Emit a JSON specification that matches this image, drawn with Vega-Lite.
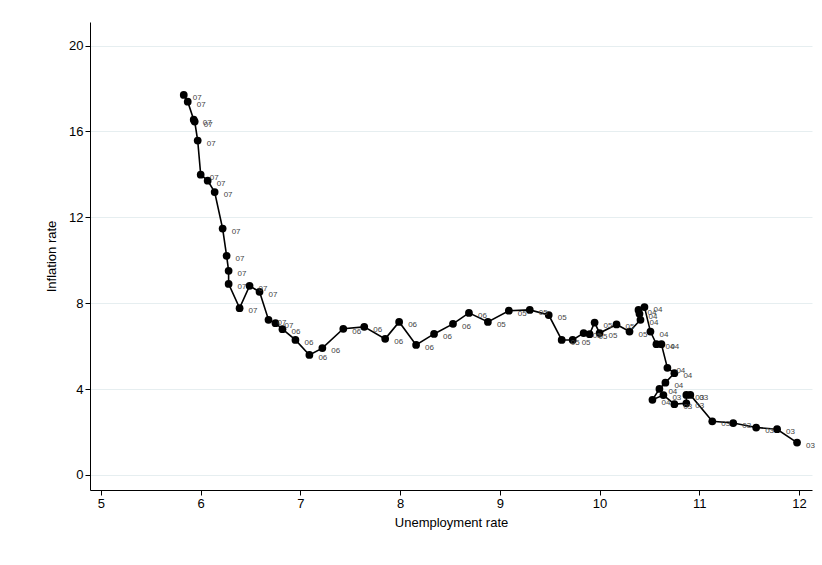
{
  "$schema": "https://vega.github.io/schema/vega-lite/v6.json",
  "width": 722,
  "height": 468,
  "autosize": {"type": "none"},
  "padding": {"left": 90, "top": 22, "right": 10, "bottom": 75},
  "background": "white",
  "config": {
    "font": "Liberation Sans",
    "view": {"stroke": null},
    "axis": {"labelFont": "Liberation Sans", "titleFont": "Liberation Sans", "labelFontSize": 13, "titleFontSize": 13, "titleFontWeight": "normal", "labelColor": "#000", "titleColor": "#000", "domainColor": "#000", "tickColor": "#000", "gridColor": "#e6eef0"}
  },
  "data": {"values": [
    {"t": 1, "u": 5.83, "p": 17.70, "yr": "07"},
    {"t": 2, "u": 5.87, "p": 17.39, "yr": "07"},
    {"t": 3, "u": 5.93, "p": 16.55, "yr": "07"},
    {"t": 4, "u": 5.94, "p": 16.46, "yr": "07"},
    {"t": 5, "u": 5.97, "p": 15.58, "yr": "07"},
    {"t": 6, "u": 6.00, "p": 13.99, "yr": "07"},
    {"t": 7, "u": 6.07, "p": 13.71, "yr": "07"},
    {"t": 8, "u": 6.14, "p": 13.18, "yr": "07"},
    {"t": 9, "u": 6.22, "p": 11.48, "yr": "07"},
    {"t": 10, "u": 6.26, "p": 10.21, "yr": "07"},
    {"t": 11, "u": 6.28, "p": 9.51, "yr": "07"},
    {"t": 12, "u": 6.28, "p": 8.90, "yr": "07"},
    {"t": 13, "u": 6.39, "p": 7.77, "yr": "07"},
    {"t": 14, "u": 6.49, "p": 8.81, "yr": "07"},
    {"t": 15, "u": 6.59, "p": 8.53, "yr": "07"},
    {"t": 16, "u": 6.68, "p": 7.23, "yr": "07"},
    {"t": 17, "u": 6.75, "p": 7.07, "yr": "07"},
    {"t": 18, "u": 6.82, "p": 6.79, "yr": "06"},
    {"t": 19, "u": 6.95, "p": 6.29, "yr": "06"},
    {"t": 20, "u": 7.09, "p": 5.59, "yr": "06"},
    {"t": 21, "u": 7.22, "p": 5.91, "yr": "06"},
    {"t": 22, "u": 7.43, "p": 6.81, "yr": "06"},
    {"t": 23, "u": 7.64, "p": 6.90, "yr": "06"},
    {"t": 24, "u": 7.85, "p": 6.34, "yr": "06"},
    {"t": 25, "u": 7.99, "p": 7.13, "yr": "06"},
    {"t": 26, "u": 8.16, "p": 6.06, "yr": "06"},
    {"t": 27, "u": 8.34, "p": 6.57, "yr": "06"},
    {"t": 28, "u": 8.53, "p": 7.04, "yr": "06"},
    {"t": 29, "u": 8.69, "p": 7.55, "yr": "06"},
    {"t": 30, "u": 8.88, "p": 7.13, "yr": "05"},
    {"t": 31, "u": 9.09, "p": 7.65, "yr": "05"},
    {"t": 32, "u": 9.30, "p": 7.69, "yr": "05"},
    {"t": 33, "u": 9.49, "p": 7.45, "yr": "05"},
    {"t": 34, "u": 9.62, "p": 6.29, "yr": "05"},
    {"t": 35, "u": 9.73, "p": 6.29, "yr": "05"},
    {"t": 36, "u": 9.84, "p": 6.61, "yr": "05"},
    {"t": 37, "u": 9.90, "p": 6.56, "yr": "05"},
    {"t": 38, "u": 9.95, "p": 7.10, "yr": "05"},
    {"t": 39, "u": 10.00, "p": 6.61, "yr": "05"},
    {"t": 40, "u": 10.17, "p": 7.01, "yr": "05"},
    {"t": 41, "u": 10.30, "p": 6.68, "yr": "05"},
    {"t": 42, "u": 10.41, "p": 7.23, "yr": "04"},
    {"t": 43, "u": 10.40, "p": 7.51, "yr": "04"},
    {"t": 44, "u": 10.39, "p": 7.69, "yr": "04"},
    {"t": 45, "u": 10.45, "p": 7.82, "yr": "04"},
    {"t": 46, "u": 10.51, "p": 6.68, "yr": "04"},
    {"t": 47, "u": 10.57, "p": 6.09, "yr": "04"},
    {"t": 48, "u": 10.62, "p": 6.09, "yr": "04"},
    {"t": 49, "u": 10.68, "p": 4.99, "yr": "04"},
    {"t": 50, "u": 10.75, "p": 4.74, "yr": "04"},
    {"t": 51, "u": 10.66, "p": 4.30, "yr": "04"},
    {"t": 52, "u": 10.60, "p": 4.01, "yr": "04"},
    {"t": 53, "u": 10.53, "p": 3.50, "yr": "04"},
    {"t": 54, "u": 10.64, "p": 3.72, "yr": "03"},
    {"t": 55, "u": 10.75, "p": 3.30, "yr": "03"},
    {"t": 56, "u": 10.87, "p": 3.34, "yr": "03"},
    {"t": 57, "u": 10.87, "p": 3.73, "yr": "03"},
    {"t": 58, "u": 10.91, "p": 3.73, "yr": "03"},
    {"t": 59, "u": 11.13, "p": 2.50, "yr": "03"},
    {"t": 60, "u": 11.34, "p": 2.42, "yr": "03"},
    {"t": 61, "u": 11.57, "p": 2.21, "yr": "03"},
    {"t": 62, "u": 11.78, "p": 2.13, "yr": "03"},
    {"t": 63, "u": 11.98, "p": 1.51, "yr": "03"}
  ]},
  "encoding": {
    "x": {"field": "u", "type": "quantitative", "title": "Unemployment rate",
      "scale": {"domain": [4.89, 12.13], "nice": false, "zero": false},
      "axis": {"values": [5, 6, 7, 8, 9, 10, 11, 12], "grid": false, "titlePadding": 6}},
    "y": {"field": "p", "type": "quantitative", "title": "Inflation rate",
      "scale": {"domain": [-0.7, 21.1], "nice": false, "zero": false},
      "axis": {"values": [0, 4, 8, 12, 16, 20], "grid": true, "titlePadding": 10}}
  },
  "layer": [
    {"mark": {"type": "line", "color": "#000", "strokeWidth": 1.6}, "encoding": {"order": {"field": "t"}}},
    {"mark": {"type": "circle", "color": "#000", "opacity": 1, "size": 60}},
    {"mark": {"type": "text", "align": "left", "dx": 9, "dy": 3, "fontSize": 8, "fill": "#444"}, "encoding": {"text": {"field": "yr"}}}
  ]
}
